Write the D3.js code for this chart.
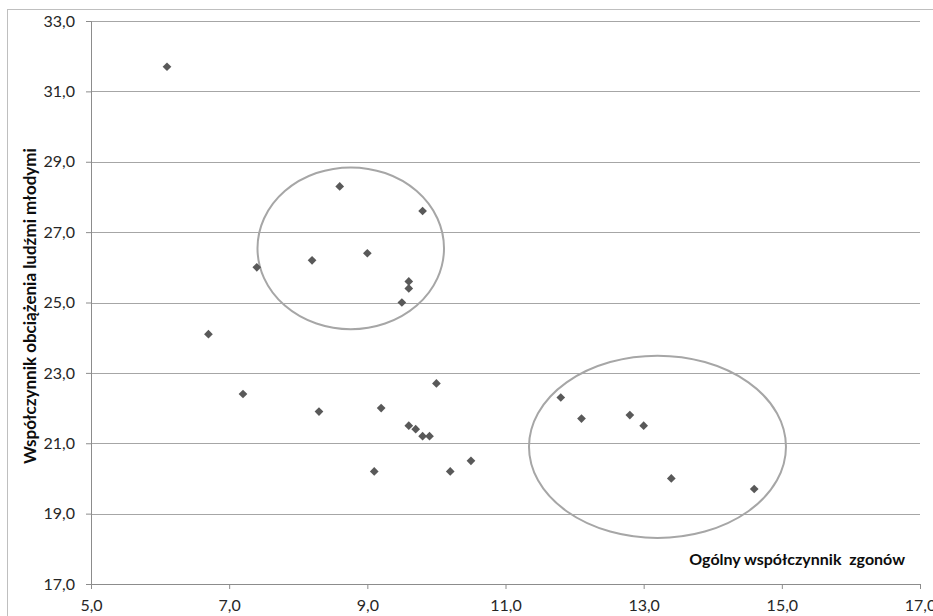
<!DOCTYPE html>
<html>
<head>
<meta charset="utf-8">
<script src="https://cdn.jsdelivr.net/npm/d3@7"></script>
<style>
  body { margin: 0; background: #fff; }
  text { font-family: Lato, "Open Sans", sans-serif; }
</style>
</head>
<body>
<script>
// ogólny współczynnik zgonów (x) vs współczynnik obciążenia ludźmi młodymi (y)
var deathRate = [6.1, 7.4, 6.7, 7.2, 8.3, 8.2, 8.6, 9.8, 9.0, 9.6, 9.6, 9.5, 10.0, 9.2,
    9.6, 9.7, 9.8, 9.9, 9.1, 10.2, 10.5, 11.8, 12.1, 12.8, 13.0, 13.4, 14.6];
var youthLoad = [31.7, 26.0, 24.1, 22.4, 21.9, 26.2, 28.3, 27.6, 26.4, 25.6, 25.4, 25.0, 22.7, 22.0,
    21.5, 21.4, 21.2, 21.2, 20.2, 20.2, 20.5, 22.3, 21.7, 21.8, 21.5, 20.0, 19.7];
var xTicks = [5, 7, 9, 11, 13, 15, 17];
var yTicks = [17, 19, 21, 23, 25, 27, 29, 31, 33];
// hand drawn circles: centre x, centre y, radius x, radius y (data units)
var ringCx = [8.76, 13.2];
var ringCy = [26.54, 20.9];
var ringRx = [1.35, 1.86];
var ringRy = [2.30, 2.59];

var width = 933;
var height = 616;
var plotLeft = 91, plotRight = 920, plotTop = 21, plotBottom = 584;

var svg = d3.select("body").append("svg").attr("width", width).attr("height", height);

// chart frame
svg.append("rect")
    .attr("x", 7.5).attr("y", 9.5)
    .attr("width", width + 20).attr("height", height + 20)
    .attr("fill", "none").attr("stroke", "#bfbfbf").attr("stroke-width", 1);

var xScale = d3.scaleLinear().domain([5, 17]).range([plotLeft, plotRight]);
var yScale = d3.scaleLinear().domain([17, 33]).range([plotBottom, plotTop]);
var fmt = function(d) { return d3.format(".1f")(d).replace(".", ","); };

// gridlines
svg.append("g")
    .selectAll("line")
    .data(yTicks.slice(1))
    .enter()
    .append("line")
    .attr("x1", plotLeft).attr("x2", plotRight)
    .attr("y1", function(d) { return Math.round(yScale(d)) + 0.5; })
    .attr("y2", function(d) { return Math.round(yScale(d)) + 0.5; })
    .attr("stroke", "#a6a6a6");

var yAxis = svg.append("g")
    .attr("transform", "translate(" + plotLeft + ",0)")
    .call(d3.axisLeft(yScale).tickValues(yTicks).tickFormat(fmt).tickSize(5).tickPadding(11));

var xAxis = svg.append("g")
    .attr("transform", "translate(0," + plotBottom + ")")
    .call(d3.axisBottom(xScale).tickValues(xTicks).tickFormat(fmt).tickSize(5).tickPadding(11));

[xAxis, yAxis].forEach(function(a) {
    a.select(".domain").attr("stroke", "#8c8c8c");
    a.selectAll(".tick line").attr("stroke", "#8c8c8c");
    a.selectAll(".tick text")
        .attr("fill", "#262626")
        .style("font-size", "16px");
});

// rings
svg.append("g")
    .selectAll("ellipse")
    .data(ringCx)
    .enter()
    .append("ellipse")
    .attr("cx", function(d) { return xScale(d); })
    .attr("cy", function(d, i) { return yScale(ringCy[i]); })
    .attr("rx", function(d, i) { return xScale(5 + ringRx[i]) - xScale(5); })
    .attr("ry", function(d, i) { return yScale(17) - yScale(17 + ringRy[i]); })
    .attr("fill", "none")
    .attr("stroke", "#a6a6a6")
    .attr("stroke-width", 2);

// points
var diamond = d3.symbol().type(d3.symbolSquare).size(38);
svg.append("g")
    .selectAll("path")
    .data(deathRate)
    .enter()
    .append("path")
    .attr("d", diamond)
    .attr("transform", function(d, i) {
        return "translate(" + xScale(d) + "," + yScale(youthLoad[i]) + ") rotate(45)";
    })
    .attr("fill", "#595959");

svg.append("text")
    .attr("x", 905).attr("y", 565)
    .attr("text-anchor", "end")
    .style("font-size", "16px")
    .style("font-weight", "bold")
    .style("white-space", "pre")
    .attr("fill", "#0d0d0d")
    .text("Ogólny współczynnik  zgonów");

svg.append("text")
    .attr("transform", "translate(36,306) rotate(-90)")
    .attr("text-anchor", "middle")
    .style("font-size", "17px")
    .style("font-weight", "bold")
    .attr("fill", "#0d0d0d")
    .text("Współczynnik obciążenia ludźmi młodymi");
</script>
</body>
</html>
